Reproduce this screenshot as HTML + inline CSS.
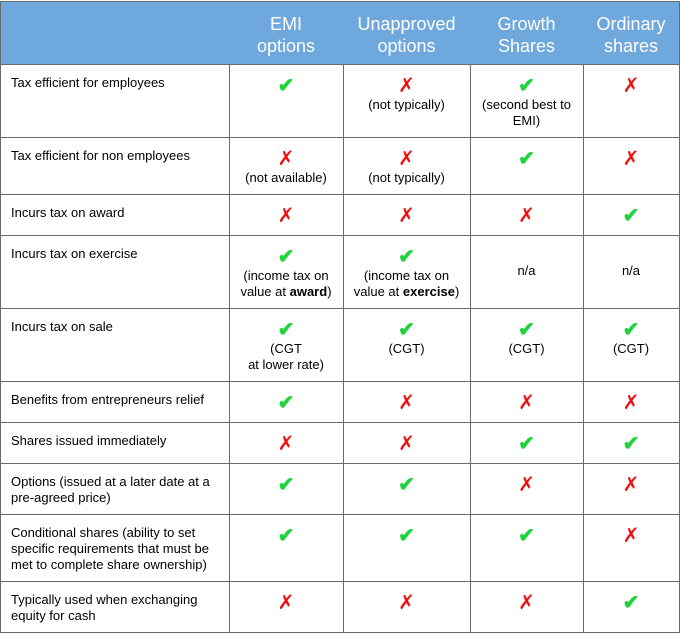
<!DOCTYPE html>
<html><head><meta charset="utf-8"><style>
body{margin:0;width:680px;height:634px;background:#fff;font-family:"Liberation Sans",Arial,sans-serif;position:relative;overflow:hidden}
.c{position:absolute;box-sizing:border-box;border-right:1px solid #6b6b6b;border-bottom:1px solid #6b6b6b;font-size:13px;line-height:16px;color:#000}
.h{background:#6fa8dc;color:#fff;font-size:18px;line-height:22px;text-align:center;padding-top:11px}
.l{padding:11px 0 0 10px}
.v{text-align:center;padding-top:12px}
.s{display:block;font-size:20px;line-height:21px;font-weight:bold}
.y{color:#1fd33a}.n{color:#f01010;font-weight:normal}
.na{padding-top:28px}
</style></head><body>
<div id="t"></div>
<script>
var xs=[0,229,343,470,583,679];
var ys=[1,64,137,194,235,308,381,422,463,514,581,632];
var Y='<span class="s y">✔</span>',N='<span class="s n">✗</span>';
var rows=[
["Tax efficient for employees",Y,N+"(not typically)",Y+"(second best to<br>EMI)",N],
["Tax efficient for non employees",N+"(not available)",N+"(not typically)",Y,N],
["Incurs tax on award",N,N,N,Y],
["Incurs tax on exercise",Y+"(income tax on<br>value at <b>award</b>)",Y+"(income tax on<br>value at <b>exercise</b>)","#n/a","#n/a"],
["Incurs tax on sale",Y+"(CGT<br>at lower rate)",Y+"(CGT)",Y+"(CGT)",Y+"(CGT)"],
["Benefits from entrepreneurs relief",Y,N,N,N],
["Shares issued immediately",N,N,Y,Y],
["Options (issued at a later date at a pre-agreed price)",Y,Y,N,N],
["Conditional shares (ability to set specific requirements that must be met to complete share ownership)",Y,Y,Y,N],
["Typically used when exchanging equity for cash",N,N,N,Y]];
var hd=["","EMI<br>options","Unapproved<br>options","Growth<br>Shares","Ordinary<br>shares"];
var h="";
function cell(r,c,cls,html){
 var st="left:"+xs[c]+"px;top:"+ys[r]+"px;width:"+(xs[c+1]-xs[c]+1)+"px;height:"+(ys[r+1]-ys[r]+1)+"px;";
 if(c==0)st+="border-left:1px solid #6b6b6b;";
 if(r==0)st+="border-top:1px solid #6b6b6b;";
 h+='<div class="c '+cls+'" style="'+st+'">'+html+'</div>';
}
for(var c=0;c<5;c++)cell(0,c,"h",hd[c]);
for(var r=0;r<rows.length;r++)for(var c=0;c<5;c++){
 var v=rows[r][c];
 if(c==0){cell(r+1,c,"l",'<div style="width:205px">'+v+'</div>');}
 else if(v.charAt(0)=="#")cell(r+1,c,"v na",v.slice(1));
 else cell(r+1,c,"v",v);
}
document.getElementById("t").innerHTML=h;
</script>
</body></html>
